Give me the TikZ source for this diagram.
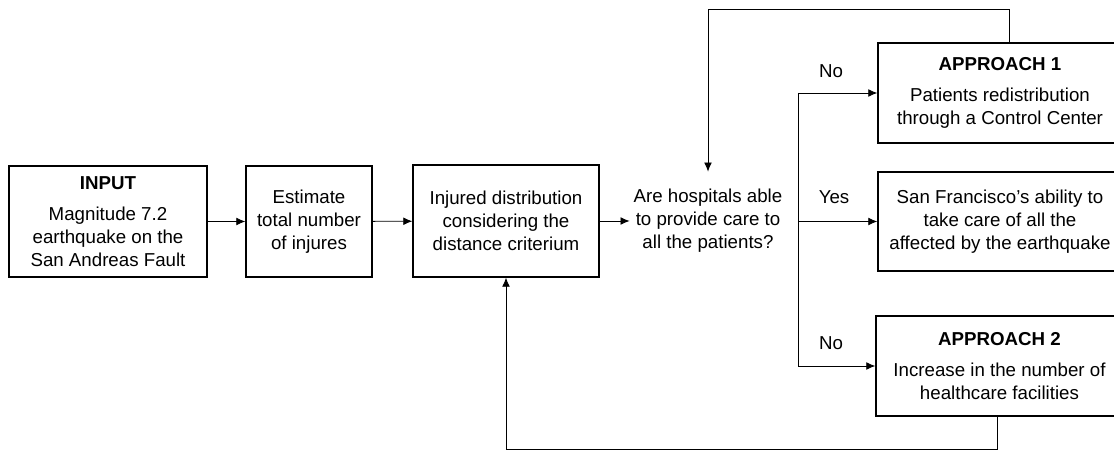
\documentclass[tikz,border=0pt]{standalone}
\usepackage{fontspec}
\setmainfont{Liberation Sans}
\usepackage{tikz}
\usetikzlibrary{arrows.meta, positioning}

\begin{document}
\begin{tikzpicture}[x=0.025cm, y=-0.025cm,
		stagebox/.style={draw, line width=0.8pt, align=center,
			font=\fontsize{13.3}{16.4}\selectfont, inner sep=2pt},
		flowarrow/.style={line width=0.6pt, -{Latex[length=6.5pt, width=5.5pt]}},
		flowline/.style={line width=0.6pt},
		branchlabel/.style={font=\fontsize{13.3}{16.4}\selectfont}]
	\useasboundingbox (0,0) rectangle (1114,451);

	% main chain
	\node[stagebox, minimum width=4.95cm, minimum height=2.775cm] (input) at (108,221.5)
		{\textbf{INPUT}\\[6pt] Magnitude 7.2\\ earthquake on the\\ San Andreas Fault};
	\node[stagebox, minimum width=3.15cm, minimum height=2.775cm] (estimate) at (309,221.5)
		{Estimate\\ total number\\ of injures};
	\node[stagebox, minimum width=4.65cm, minimum height=2.8cm] (injured) at (506,221)
		{Injured distribution\\ considering the\\ distance criterium};
	\node[align=center, font=\fontsize{13.3}{16.4}\selectfont,
		minimum width=3.9cm, minimum height=2.45cm, inner sep=0pt] (ask) at (708,221)
		{Are hospitals able\\ to provide care to\\ all the patients?};

	% outcomes
	\node[stagebox, minimum width=6.1cm, minimum height=2.5cm] (approach1) at (1000,93)
		{\textbf{APPROACH 1}\\[6pt] Patients redistribution\\ through a Control Center};
	\node[stagebox, minimum width=6.1cm, minimum height=2.475cm] (capable) at (1000,221.5)
		{San Francisco’s ability to\\ take care of all the\\ affected by the earthquake};
	\node[stagebox, minimum width=6.175cm, minimum height=2.5cm] (approach2) at (999.5,366)
		{\textbf{APPROACH 2}\\[6pt] Increase in the number of\\ healthcare facilities};

	\coordinate (splittop) at (798,93);
	\coordinate (splitmid) at (798,221.5);
	\coordinate (splitbot) at (798,366);
	\coordinate (loopup) at (1009,9);
	\coordinate (loopdown) at (997,449);

	\draw[flowarrow] (input) -- (estimate);
	\draw[flowarrow] (estimate) -- (injured);
	\draw[flowarrow] (injured) -- (ask);

	\draw[flowline] (splittop) -- (splitbot);
	\draw[flowarrow] (splittop) -- (approach1.west);
	\draw[flowarrow] (splitmid) -- (capable.west);
	\draw[flowarrow] (splitbot) -- (approach2.west);

	\node[branchlabel] (no1) at (831,71) {No};
	\node[branchlabel] (yes) at (834,197) {Yes};
	\node[branchlabel] (no2) at (831,343) {No};

	% feedback loops
	\draw[flowarrow] (approach1.north -| loopup) -- (loopup) -| (ask.north);
	\draw[flowarrow] (approach2.south -| loopdown) -- (loopdown) -| (injured.south);
\end{tikzpicture}
\end{document}
